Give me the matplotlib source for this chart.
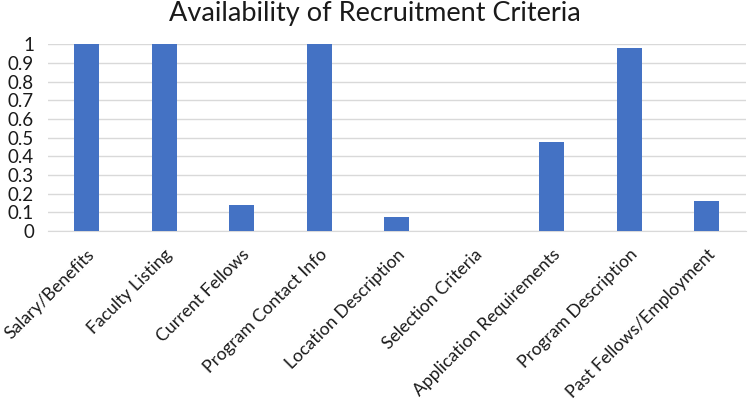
import matplotlib.pyplot as plt

categories = ['Salary/Benefits', 'Faculty Listing', 'Current Fellows', 'Program Contact Info',
              'Location Description', 'Selection Criteria', 'Application Requirements',
              'Program Description', 'Past Fellows/Employment']
values = [1.0, 1.0, 0.14, 1.0, 0.077, 0.0, 0.475, 0.98, 0.16]
y_ticks = [0, 0.1, 0.2, 0.3, 0.4, 0.5, 0.6, 0.7, 0.8, 0.9, 1]
y_labels = ['0', '0.1', '0.2', '0.3', '0.4', '0.5', '0.6', '0.7', '0.8', '0.9', '1']

plt.rcParams['font.family'] = ['Lato', 'DejaVu Sans']

fig = plt.figure(figsize=(7.5, 4.04), dpi=100)
ax = fig.add_axes([0.064, 0.428, 0.93, 0.462])

x = range(len(categories))
ax.bar(x, values, width=0.32, color='#4472C4', zorder=3)

ax.set_xlim(-0.5, len(categories) - 0.5)
ax.set_ylim(0, 1)
ax.set_yticks(y_ticks)
ax.set_yticklabels(y_labels, fontsize=13.5, color='#1a1a1a')
ax.set_xticks(list(x))
ax.set_xticklabels(categories, rotation=45, ha='right', rotation_mode='anchor',
                   fontsize=12.7, color='#1a1a1a')
ax.tick_params(axis='y', length=0, pad=10)
ax.tick_params(axis='x', length=0, pad=11)
ax.yaxis.grid(True, color='#d9d9d9', linewidth=1, zorder=0)
for s in ['top', 'right', 'left']:
    ax.spines[s].set_visible(False)
ax.spines['bottom'].set_color('#d9d9d9')

fig.suptitle('Availability of Recruitment Criteria', fontsize=19.5, color='#1a1a1a', y=0.998)

fig.savefig('out.png')
